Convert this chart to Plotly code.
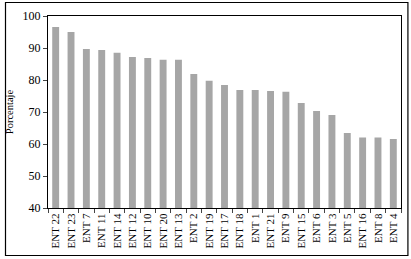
import plotly.graph_objects as go

categories = ["ENT 22", "ENT 23", "ENT 7", "ENT 11", "ENT 14", "ENT 12", "ENT 10", "ENT 20",
              "ENT 13", "ENT 2", "ENT 19", "ENT 17", "ENT 18", "ENT 1", "ENT 21", "ENT 9",
              "ENT 15", "ENT 6", "ENT 3", "ENT 5", "ENT 16", "ENT 8", "ENT 4"]
values = [96.6, 95.0, 89.7, 89.4, 88.5, 87.2, 86.9, 86.3, 86.3, 81.9, 79.8, 78.4, 76.9,
          76.9, 76.6, 76.3, 72.8, 70.3, 69.1, 63.4, 62.0, 62.0, 61.6]
y_ticks = [40, 50, 60, 70, 80, 90, 100]

font_family = "Liberation Serif, Times New Roman, serif"

fig = go.Figure(go.Bar(x=categories, y=values, marker=dict(color="#a6a6a6", line=dict(width=0)),
                       hoverinfo="skip"))

fig.update_layout(
    width=411, height=259,
    margin=dict(l=45, r=9, t=16, b=51),
    paper_bgcolor="white", plot_bgcolor="white",
    bargap=0.55,
    showlegend=False,
    font=dict(family=font_family, color="black", size=12),
    shapes=[dict(type="rect", xref="paper", yref="paper",
                 x0=-0.1204, x1=1.0196, y0=-0.2474, y1=1.0703,
                 line=dict(color="black", width=1.2), layer="above")],
)
fig.update_yaxes(range=[40, 100], tickvals=y_ticks, ticks="outside", ticklen=4,
                 showgrid=False, showline=True, linecolor="black", linewidth=1.2, mirror=True,
                 zeroline=False, tickfont=dict(size=12),
                 title=dict(text="Porcentaje", font=dict(size=10.5), standoff=6))
fig.update_xaxes(ticks="outside", ticklen=4, tickson="boundaries", tickangle=-90,
                 showgrid=False, showline=True, linecolor="black", linewidth=1.2, mirror=True,
                 tickfont=dict(size=11))

fig.write_html("out.html", config={"displayModeBar": False},
               post_script="document.body.style.margin='0';document.body.style.overflow='hidden';")
